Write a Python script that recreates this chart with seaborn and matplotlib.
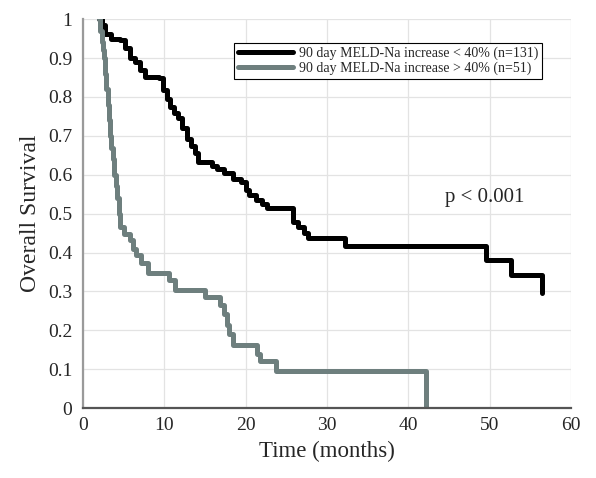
import pandas as pd
import matplotlib
matplotlib.use("Agg")
import matplotlib.pyplot as plt
import seaborn as sns

# Kaplan-Meier step points (time in months, survival)
low_time = [2.0, 2.3, 2.7, 3.5, 4.6, 5.2, 5.8, 6.4, 7.0, 7.6, 9.3, 9.9, 10.3,
            10.7, 11.2, 11.7, 12.2, 12.75, 13.3, 13.8, 14.2, 15.9, 16.5, 17.3,
            18.5, 19.5, 20.0, 20.4, 21.3, 22.0, 22.6, 25.8, 26.5, 27.2, 27.7,
            32.2, 49.6, 52.6, 56.4]
low_surv = [1.0, 0.985, 0.963, 0.95, 0.946, 0.925, 0.90, 0.89, 0.869, 0.852,
            0.848, 0.817, 0.795, 0.775, 0.76, 0.745, 0.72, 0.693, 0.675, 0.655,
            0.632, 0.622, 0.614, 0.605, 0.59, 0.582, 0.562, 0.548, 0.535, 0.525,
            0.515, 0.478, 0.465, 0.45, 0.437, 0.418, 0.38, 0.342, 0.297]

high_time = [2.0, 2.15, 2.3, 2.45, 2.6, 2.75, 2.9, 3.05, 3.2, 3.35, 3.5, 3.65,
             3.85, 4.05, 4.2, 4.4, 4.6, 5.0, 5.8, 6.2, 6.5, 7.2, 8.0, 10.6,
             11.3, 15.0, 16.9, 17.3, 17.7, 18.0, 18.4, 21.4, 21.8, 23.8, 42.2]
high_surv = [1.0, 0.97, 0.94, 0.92, 0.90, 0.86, 0.82, 0.78, 0.74, 0.70, 0.67,
             0.64, 0.60, 0.57, 0.54, 0.50, 0.466, 0.449, 0.432, 0.41, 0.393,
             0.372, 0.348, 0.33, 0.305, 0.285, 0.265, 0.243, 0.215, 0.19,
             0.163, 0.14, 0.121, 0.095, 0.0]

low_label = "90 day MELD-Na increase < 40% (n=131)"
high_label = "90 day MELD-Na increase > 40% (n=51)"

df = pd.concat([
    pd.DataFrame({"time": low_time, "surv": low_surv, "group": low_label}),
    pd.DataFrame({"time": high_time, "surv": high_surv, "group": high_label}),
])

sns.set_style("whitegrid")
plt.rcParams["font.family"] = ["Liberation Serif", "DejaVu Serif"]

fig = plt.figure(figsize=(5.96, 4.78), dpi=100)
ax = fig.add_axes([0.139, 0.146, 0.819, 0.814])

sns.lineplot(data=df, x="time", y="surv", hue="group",
             palette={low_label: "#000000", high_label: "#6e7f7e"},
             drawstyle="steps-post", linewidth=3.6, estimator=None,
             sort=False, ax=ax)

ax.set_xlim(0, 60)
ax.set_ylim(0, 1)
ax.set_xticks(range(0, 61, 10))
ax.set_yticks([i / 10 for i in range(11)])
ax.set_yticklabels(["0"] + [f"{i / 10:.1f}" for i in range(1, 10)] + ["1"])
ax.grid(True, color="#e3e3e3", linewidth=0.9)
ax.tick_params(axis="both", direction="in", length=4, width=1,
               color="#555555", labelsize=14)
ax.tick_params(axis="y", pad=7.5)
ax.tick_params(axis="x", pad=6)
for side in ["top", "right"]:
    ax.spines[side].set_visible(False)
ax.spines["left"].set_color("#9a9a9a")
ax.spines["bottom"].set_color("#555555")
ax.spines["left"].set_linewidth(1.6)
ax.spines["bottom"].set_linewidth(1.6)

ax.set_xlabel("Time (months)", fontsize=16.5, labelpad=5)
ax.set_ylabel("Overall Survival", fontsize=17, labelpad=5)

ax.text(49.4, 0.542, "p < 0.001", fontsize=15, ha="center", va="center")

leg = ax.legend(loc="upper center", bbox_to_anchor=(0.625, 0.957), fontsize=10,
                handlelength=4.0, handletextpad=0.4, borderpad=0.3,
                labelspacing=0.1, fancybox=False, framealpha=1)
leg.get_frame().set_edgecolor("#000000")
leg.get_frame().set_linewidth(0.8)
leg.set_title(None)

fig.savefig("out.png", dpi=100)
